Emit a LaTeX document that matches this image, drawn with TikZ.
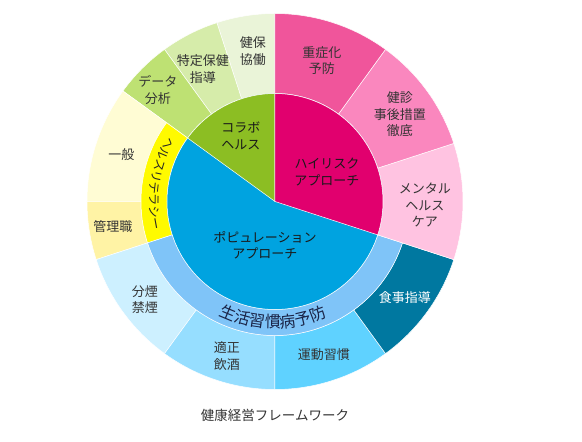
\documentclass[tikz,border=0pt]{standalone}
\usepackage{fontspec}
\setmainfont{Noto Sans CJK JP}
\usetikzlibrary{decorations.text}
\definecolor{kenpoC}{RGB}{234,244,216}
\definecolor{tokuteiC}{RGB}{214,236,170}
\definecolor{dataC}{RGB}{190,225,115}
\definecolor{collabC}{RGB}{140,190,35}
\definecolor{ippanC}{RGB}{255,252,212}
\definecolor{kanriC}{RGB}{255,243,165}
\definecolor{literacyC}{RGB}{255,250,0}
\definecolor{popuC}{RGB}{0,163,224}
\definecolor{seikatsuC}{RGB}{127,196,248}
\definecolor{bunenC}{RGB}{205,240,255}
\definecolor{tekiseiC}{RGB}{150,222,255}
\definecolor{undoC}{RGB}{95,210,255}
\definecolor{shokujiC}{RGB}{0,120,160}
\definecolor{mentalC}{RGB}{255,195,225}
\definecolor{kenshinC}{RGB}{250,135,190}
\definecolor{jyushoC}{RGB}{240,85,155}
\definecolor{highC}{RGB}{225,0,110}
\definecolor{navyT}{RGB}{25,35,70}
\begin{document}
\begin{tikzpicture}[x=1pt,y=1pt,
			lbl/.style={
				align=center,
				font=\fontsize{13}{16.5}\selectfont,
				text=black!80
			},
			sep/.style={
				draw=white,
				line width=0.5pt
			}
			]
			\useasboundingbox (-275,-240.5) rectangle (307,201.5);
			%---------------- 外周 ----------------
			\foreach \a/\b/\ri/\ro/\col in {
				90/108/108/188/kenpoC, 108/126/108/188/tokuteiC, 126/144/108/188/dataC,
				144/180/134/188/ippanC, 180/198/134/188/kanriC, 144/198/108/134/literacyC,
				198/234/134/188/bunenC, 234/270/134/188/tekiseiC, 270/306/134/188/undoC,
				306/342/134/188/shokujiC, 198/342/108/134/seikatsuC,
				-18/18/108/188/mentalC, 18/54/108/188/kenshinC, 54/90/108/188/jyushoC}
			{\fill[\col, sep] (\a:\ri pt) arc[start angle=\a, end angle=\b, radius=\ri pt]
				-- (\b:\ro pt) arc[start angle=\b, end angle=\a, radius=\ro pt] -- cycle;}
			%---------------- 中心 ----------------
			\fill[popuC, sep] (0,0) circle[radius=108pt];
			\fill[collabC, sep] (0,0) -- (90:108pt) arc[start angle=90, end angle=144, radius=108pt] -- cycle;
			\fill[highC, sep] (0,0) -- (-18:108pt) arc[start angle=-18, end angle=90, radius=108pt] -- cycle;
			%---------------- 帯の文字 ----------------
			\path[decorate, decoration={text along path, text align=center,
				text={|\fontsize{12.2}{12}\selectfont\color{black!85}|ヘルスリテラシー}}]
				(138:125.5pt) arc[start angle=138, end angle=204, radius=125.5pt];
			\path[decorate, decoration={text along path, text align=center,
				text={|\fontsize{16}{16}\selectfont\color{navyT}|生活習慣病予防}}]
				(232:126.5pt) arc[start angle=232, end angle=306, radius=126.5pt];
			%---------------- ラベル ----------------
			\node[lbl] (kenpo) at (-22,150.5) {健保\\協働};
			\node[lbl] (tokutei) at (-72,132.5) {特定保健\\指導};
			\node[lbl] (data) at (-117,111.5) {データ\\分析};
			\node[lbl] (ippan) at (-153.5,46.5) {一般};
			\node[lbl] (kanri) at (-162,-25.5) {管理職};
			\node[lbl] (bunen) at (-130,-98) {分煙\\禁煙};
			\node[lbl] (tekisei) at (-48,-154.5) {適正\\飲酒};
			\node[lbl] (undo) at (49,-153.5) {運動習慣};
			\node[lbl, text=white] (shokuji) at (130,-96) {食事指導};
			\node[lbl] (mental) at (150,-3.5) {メンタル\\ヘルス\\ケア};
			\node[lbl] (kenshin) at (125,87) {健診\\事後措置\\徹底};
			\node[lbl] (jyusho) at (47,141) {重症化\\予防};
			\node[lbl, text=black!90] (collab) at (-34,65.5) {コラボ\\ヘルス};
			\node[lbl, text=black!90] (high) at (52,29.5) {ハイリスク\\アプローチ};
			\node[lbl, text=black!90] (popu) at (-10,-43.5) {ポピュレーション\\アプローチ};
			\node[font=\fontsize{13.5}{16}\selectfont, text=black!80] (caption) at (0,-213.5) {健康経営フレームワーク};
		\end{tikzpicture}
\end{document}
